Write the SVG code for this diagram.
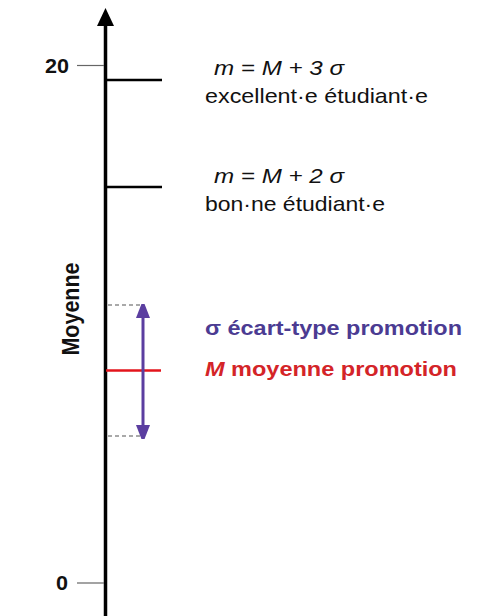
<svg xmlns="http://www.w3.org/2000/svg" width="487" height="616" viewBox="0 0 487 616">
<style>
.t{font-family:"Liberation Sans",Arial,sans-serif;font-size:21px;fill:#111}
.b{font-weight:bold}
.i{font-style:italic}
.tick{stroke:#666;stroke-width:1.2}
.lvl{stroke:#000;stroke-width:2.5}
.dash{stroke:#555;stroke-width:1.2;stroke-dasharray:4 3}
</style>
<defs>
<marker id="ah" viewBox="0 0 14 18" refX="13" refY="7" markerWidth="14" markerHeight="18" markerUnits="userSpaceOnUse" orient="auto">
<path d="M0,0 L18,7 L0,14 Z" fill="#5b3ea0"/>
</marker>
</defs>
<rect width="487" height="616" fill="#fff"/>
<g id="axis">
<line x1="105.5" y1="24" x2="105.5" y2="616" stroke="#000" stroke-width="3.5"/>
<polygon points="105.5,8 97,26 114,26" fill="#000"/>
<text class="t b" transform="translate(79,309) rotate(-90) scale(1,1.15)" text-anchor="middle" style="font-size:21.5px">Moyenne</text>
</g>
<g id="tick20">
<line class="tick" x1="77" y1="65.5" x2="104" y2="65.5"/>
<text class="t b" x="45" y="72.5" textLength="24" lengthAdjust="spacingAndGlyphs" style="font-size:20px">20</text>
</g>
<g id="tick0">
<line class="tick" x1="77" y1="583" x2="104" y2="583"/>
<text class="t b" x="56" y="590" textLength="12" lengthAdjust="spacingAndGlyphs" style="font-size:20px">0</text>
</g>
<g id="excellent">
<line class="lvl" x1="106" y1="80" x2="162" y2="80"/>
<text class="t i" x="214" y="75" textLength="130" lengthAdjust="spacingAndGlyphs">m = M + 3 σ</text>
<text class="t" x="205" y="103" textLength="223" lengthAdjust="spacingAndGlyphs">excellent·e étudiant·e</text>
</g>
<g id="bon">
<line class="lvl" x1="106" y1="187" x2="162" y2="187"/>
<text class="t i" x="214" y="183" textLength="130" lengthAdjust="spacingAndGlyphs">m = M + 2 σ</text>
<text class="t" x="205" y="211" textLength="180" lengthAdjust="spacingAndGlyphs">bon·ne étudiant·e</text>
</g>
<g id="moyenne">
<line x1="106" y1="370.5" x2="161" y2="370.5" stroke="#e3141c" stroke-width="2.5"/>
<text class="t b" x="205" y="376" textLength="252" lengthAdjust="spacingAndGlyphs" style="fill:#d42428"><tspan font-style="italic">M</tspan> moyenne promotion</text>
</g>
<g id="sigma">
<line class="dash" x1="108" y1="305" x2="140" y2="305"/>
<line class="dash" x1="108" y1="436" x2="140" y2="436"/>
<text class="t b" x="205" y="335" textLength="257" lengthAdjust="spacingAndGlyphs" style="fill:#4b3b92">σ écart-type promotion</text>
</g>
<g id="connectors">
<line x1="143" y1="371" x2="143" y2="305" stroke="#5b3ea0" stroke-width="3" marker-end="url(#ah)"/>
<line x1="143" y1="371" x2="143" y2="438" stroke="#5b3ea0" stroke-width="3" marker-end="url(#ah)"/>
</g>
</svg>
